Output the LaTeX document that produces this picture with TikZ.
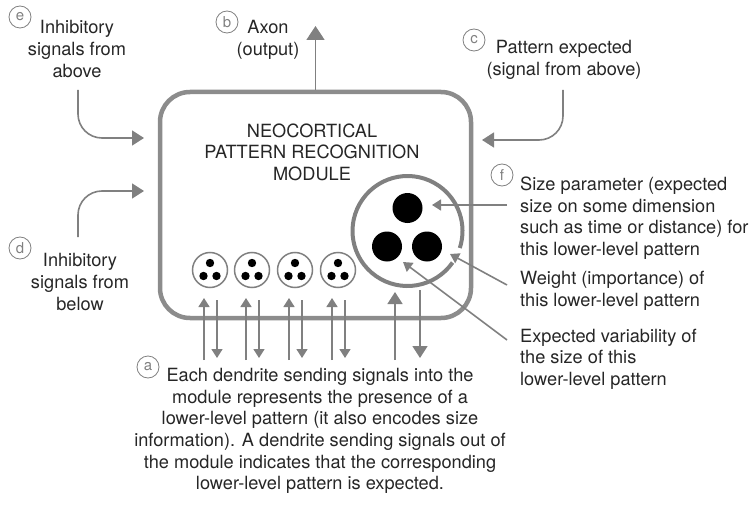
\documentclass[tikz,border=0pt]{standalone}
\usepackage{fontspec}
\setmainfont{TeX Gyre Heros}
\usetikzlibrary{arrows.meta}
\definecolor{boxgray}{RGB}{140,140,140}
\definecolor{linegray}{RGB}{128,128,128}
\tikzstyle{arrow} = [linegray, line width=1.6pt, -{Triangle[width=15pt,length=12pt]}]
\tikzstyle{bigarrow} = [linegray, line width=1.8pt, -{Triangle[width=18pt,length=14pt]}]
\tikzstyle{smallarrow} = [linegray, line width=1.6pt, -{Triangle[width=11pt,length=9pt]}]
\tikzstyle{letterring} = [circle, draw=linegray, line width=0.8pt, text=linegray, minimum size=22pt, inner sep=0pt, font=\fontsize{15}{15}\selectfont]
\tikzstyle{note} = [inner sep=0pt, text=black!85, font=\fontsize{18.2}{21.6}\selectfont]

\begin{document}
\begin{tikzpicture}[x=1pt, y=-1pt]
        \useasboundingbox (0,0) rectangle (754,505);

        % Module box
        \node[draw=boxgray, line width=4.5pt, rounded corners=30pt, minimum width=311pt, minimum height=226pt] (mod) at (315.5,205) {};
        \node[note, align=center] (title) at (312,152) {NEOCORTICAL\\PATTERN RECOGNITION\\MODULE};

        % Axon
        \coordinate (axon) at (315.5,26);
        \draw[bigarrow] (mod.north) -- (axon);
        \node[letterring] (b) at (227,22) {b};
        \node[note, align=center] (bText) at (268,40) {Axon\\(output)};

        % Inhibitory signals from above
        \node[letterring] (e) at (20,17) {e};
        \node[note, align=center] (eText) at (77,49) {Inhibitory\\signals from\\above};
        \coordinate (eStart) at (78,90);
        \coordinate (eEnd) at (144,138);
        \draw[arrow, rounded corners=24pt] (eStart) |- (eEnd);

        % Inhibitory signals from below
        \node[letterring] (d) at (20,248) {d};
        \node[note, align=center] (dText) at (80,282) {Inhibitory\\signals from\\below};
        \coordinate (dStart) at (78,237);
        \coordinate (dEnd) at (144,191);
        \draw[arrow, rounded corners=24pt] (dStart) |- (dEnd);

        % Pattern expected
        \node[letterring] (c) at (474,40) {c};
        \node[note, align=center] (cText) at (564,60) {Pattern expected\\(signal from above)};
        \coordinate (cStart) at (563,90);
        \coordinate (cEnd) at (482,140);
        \draw[arrow, rounded corners=24pt] (cStart) |- (cEnd);

        % Lower-level patterns
        \foreach \x [count=\i] in {210,252,295,338} {
            \node[circle, draw=linegray, line width=1.5pt, minimum size=35pt, inner sep=0pt] (pat\i) at (\x,270) {};
            \fill (\x,263) circle[radius=4.2pt];
            \fill (\x-6.5,276) circle[radius=4.2pt];
            \fill (\x+6.5,276) circle[radius=4.2pt];
            \coordinate (upS\i) at (\x-6,360);
            \coordinate (upE\i) at (\x-6,298);
            \coordinate (dnS\i) at (\x+7,300);
            \coordinate (dnE\i) at (\x+7,358);
            \draw[smallarrow] (upS\i) -- (upE\i);
            \draw[smallarrow] (dnS\i) -- (dnE\i);
        }

        % This pattern
        \coordinate (big) at (407.5,231);
        \draw[linegray, line width=4pt] (big) ++(35:55) arc[start angle=35, end angle=378, radius=55];
        \fill (407.5,208) circle[radius=15pt];
        \fill (387,246.5) circle[radius=15pt];
        \fill (427,246.5) circle[radius=15pt];
        \coordinate (bigUpS) at (395,360);
        \coordinate (bigUpE) at (395,292);
        \coordinate (bigDnS) at (420,290);
        \coordinate (bigDnE) at (420,358);
        \draw[arrow] (bigUpS) -- (bigUpE);
        \draw[arrow] (bigDnS) -- (bigDnE);

        % Notes on the right
        \node[letterring] (f) at (502,175) {f};
        \node[note, align=left, anchor=west] (fText) at (520,218) {Size parameter (expected\\size on some dimension\\such as time or distance) for\\this lower-level pattern};
        \node[note, align=left, anchor=west] (wText) at (520,291) {Weight (importance) of\\this lower-level pattern};
        \node[note, align=left, anchor=west] (vText) at (520,359) {Expected variability of\\the size of this\\lower-level pattern};
        \coordinate (sizeS) at (507,205);
        \coordinate (sizeE) at (432,205);
        \coordinate (wS) at (507,285);
        \coordinate (wE) at (450,254);
        \coordinate (vS) at (507,340);
        \coordinate (vE) at (403,262);
        \draw[smallarrow] (sizeS) -- (sizeE);
        \draw[smallarrow] (wS) -- (wE);
        \draw[smallarrow] (vS) -- (vE);

        % Dendrites
        \node[letterring] (a) at (148,367) {a};
        \node[note, align=center] (aText) at (320,431) {Each dendrite sending signals into the\\module represents the presence of a\\lower-level pattern (it also encodes size\\information). A dendrite sending signals out of\\the module indicates that the corresponding\\lower-level pattern is expected.};
      \end{tikzpicture}
\end{document}
